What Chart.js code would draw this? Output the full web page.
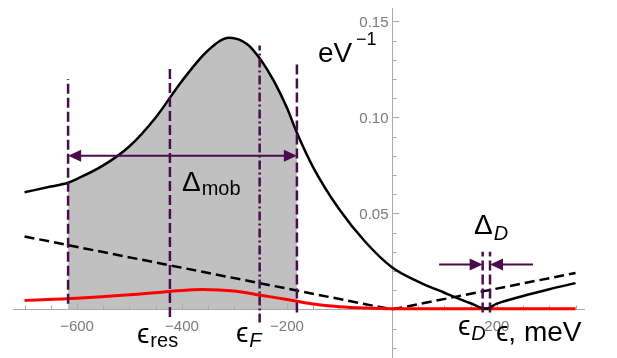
<!DOCTYPE html>
<html>
<head>
<meta charset="utf-8">
<script src="https://cdn.jsdelivr.net/npm/chart.js@4.4.7/dist/chart.umd.min.js"></script>
<style>
  html, body { margin: 0; padding: 0; background: #fff; }
</style>
</head>
<body>
<canvas id="dosChart" width="617" height="358"></canvas>
<script>
// energy in meV, density of states in 1/eV
const energies = [-700, -650, -617, -600, -550, -500, -450, -400, -350, -310, -275, -250, -225, -200, -181, -150, -100, -50, 0, 50, 100, 150, 180, 200, 250, 300, 350];
const dosTotal = [0.061, 0.064, 0.066, 0.068, 0.075, 0.085, 0.100, 0.119, 0.135, 0.1415, 0.138, 0.130, 0.119, 0.105, 0.092, 0.074, 0.052, 0.035, 0.022, 0.0145, 0.0087, 0.0032, 0.0004, 0.003, 0.007, 0.0105, 0.0137];

const resEnergies = [-700, -600, -500, -423, -360, -300, -250, -200, -150, -100, -50, 0, 350];
const dosRes = [0.0047, 0.0058, 0.0076, 0.0094, 0.0104, 0.0096, 0.0074, 0.0052, 0.0028, 0.0014, 0.0007, 0.0004, 0.0004];

const cleanEnergies = [-700, 0, 350];
const dosClean = [0.038, 0, 0.019];

// mobility edge window (shaded)
const mobEdges = [-617, -181];

// vertical marker lines
const markerE      = [-617, -423, -252, -181, 173, 187];
const markerTop    = [0.120, 0.1255, 0.1375, 0.128, 0.030, 0.030];
const markerBottom = [0.003, -0.004, -0.0068, -0.0016, -0.0016, -0.0016];
const markerDashDot = [false, false, true, false, false, false];

// arrows: [from, to] energies at a height
const mobArrow = [-617, -181];
const mobArrowY = 0.080;
const gapArrows = [[90, 173], [269, 187]];
const gapArrowY = 0.0234;

// ticks
const xTicks = [-600, -400, -200, 200];
const xTickLabels = ['\u2212600', '\u2212400', '\u2212200', '200'];
const yTicks = [0.05, 0.10, 0.15];
const yTickLabels = ['0.05', '0.10', '0.15'];

const purple = '#4b0c4d';
const FONT = '"Liberation Sans", "DejaVu Sans", Arial, sans-serif';

function pts(xs, ys) {
  return xs.map((e, i) => ({ x: e, y: ys[i] }));
}

const shadePts = pts(energies, dosTotal).filter(p => p.x >= mobEdges[0] && p.x <= mobEdges[1]);

const datasets = [
  {
    data: shadePts, fill: 'origin', backgroundColor: '#c0c0c0',
    borderWidth: 0, pointRadius: 0, cubicInterpolationMode: 'monotone', order: 10
  },
  {
    data: pts(cleanEnergies, dosClean), borderColor: '#000', borderWidth: 2.5,
    borderDash: [10, 5], pointRadius: 0, tension: 0, fill: false, order: 6
  },
  {
    data: pts(resEnergies, dosRes), borderColor: '#ff0000', borderWidth: 3,
    pointRadius: 0, cubicInterpolationMode: 'monotone', fill: false, order: 5
  },
  {
    data: pts(energies, dosTotal), borderColor: '#000', borderWidth: 2.5,
    pointRadius: 0, cubicInterpolationMode: 'monotone', fill: false, order: 4
  }
];

markerE.forEach((e, i) => {
  datasets.push({
    data: [{ x: e, y: markerBottom[i] }, { x: e, y: markerTop[i] }],
    borderColor: purple, borderWidth: 2.5,
    borderDash: markerDashDot[i] ? [9, 3, 2, 3] : [10, 4],
    pointRadius: 0, tension: 0, fill: false, order: 1
  });
});

function drawAxes(chart) {
  const { ctx, chartArea: a, scales: { x, y } } = chart;
  const x0 = Math.round(x.getPixelForValue(0)) + 0.5;
  const y0 = Math.round(y.getPixelForValue(0)) + 0.5;
  ctx.save();
  ctx.strokeStyle = '#a9a9a9';
  ctx.lineWidth = 1;
  ctx.beginPath();
  ctx.moveTo(a.left, y0); ctx.lineTo(a.right, y0);
  ctx.moveTo(x0, a.top); ctx.lineTo(x0, a.bottom);
  for (let v = -700; v <= 350; v += 50) {
    if (v === 0) continue;
    const px = Math.round(x.getPixelForValue(v)) + 0.5;
    const len = v % 200 === 0 ? 6 : 4;
    ctx.moveTo(px, y0); ctx.lineTo(px, y0 - len);
  }
  for (let k = -2; k <= 15; k++) {
    if (k === 0) continue;
    const py = Math.round(y.getPixelForValue(k / 100)) + 0.5;
    const len = k % 5 === 0 ? 7 : 4;
    ctx.moveTo(x0, py); ctx.lineTo(x0 + len, py);
  }
  ctx.stroke();

  ctx.fillStyle = '#7a7a7a';
  ctx.font = '15px ' + FONT;
  ctx.textBaseline = 'alphabetic';
  ctx.textAlign = 'center';
  xTicks.forEach((v, i) => {
    ctx.fillText(xTickLabels[i], x.getPixelForValue(v), y0 + 21);
  });
  ctx.textAlign = 'right';
  yTicks.forEach((v, i) => {
    ctx.fillText(yTickLabels[i], x0 - 4, y.getPixelForValue(v) + 5.5);
  });
  ctx.restore();
}

function arrowHead(ctx, tipX, tipY, dir) {
  const len = 13, half = 6;
  ctx.beginPath();
  ctx.moveTo(tipX, tipY);
  ctx.lineTo(tipX - dir * len, tipY - half);
  ctx.lineTo(tipX - dir * len, tipY + half);
  ctx.closePath();
  ctx.fill();
}

function drawArrow(ctx, xs, x1, x2, py, both) {
  const p1 = xs.getPixelForValue(x1), p2 = xs.getPixelForValue(x2);
  const dir = p2 > p1 ? 1 : -1;
  ctx.beginPath();
  ctx.moveTo(both ? p1 + dir * 8 : p1, py);
  ctx.lineTo(p2 - dir * 8, py);
  ctx.stroke();
  arrowHead(ctx, p2, py, dir);
  if (both) arrowHead(ctx, p1, py, -dir);
}

function sub(ctx, main, subText, x, base, subItalic, mainSize, subSize, subDy) {
  ctx.font = mainSize + 'px ' + FONT;
  ctx.fillText(main, x, base);
  const w = ctx.measureText(main).width;
  ctx.font = (subItalic ? 'italic ' : '') + subSize + 'px ' + FONT;
  ctx.fillText(subText, x + w + 1, base + subDy);
}

const overlay = {
  id: 'overlay',
  afterDatasetDraw(chart, args) {
    if (args.index === 0) drawAxes(chart);
  },
  afterDatasetsDraw(chart) {
    const { ctx, scales: { x, y } } = chart;
    ctx.save();
    ctx.strokeStyle = purple;
    ctx.fillStyle = purple;
    ctx.lineWidth = 2;
    drawArrow(ctx, x, mobArrow[0], mobArrow[1], y.getPixelForValue(mobArrowY), true);
    gapArrows.forEach(g => drawArrow(ctx, x, g[0], g[1], y.getPixelForValue(gapArrowY), false));
    ctx.restore();
  },
  afterDraw(chart) {
    const ctx = chart.ctx;
    ctx.save();
    ctx.fillStyle = '#000';
    ctx.textAlign = 'left';
    ctx.textBaseline = 'alphabetic';
    sub(ctx, '\u0394', 'mob', 182, 191, false, 28, 20, 4);
    sub(ctx, '\u0394', 'D', 474, 234, true, 28, 20, 6);
    sub(ctx, '\u03f5', 'res', 137, 343, false, 28, 20, 4);
    sub(ctx, '\u03f5', 'F', 236, 342, true, 28, 20, 5);
    sub(ctx, '\u03f5', 'D', 458, 335, true, 28, 20, 5);
    ctx.font = '28px ' + FONT;
    ctx.fillText('\u03f5, meV', 496, 341);
    ctx.fillText('eV', 318, 62);
    ctx.font = '18px ' + FONT;
    ctx.fillText('\u22121', 356, 45);
    ctx.restore();
  }
};

new Chart(document.getElementById('dosChart'), {
  type: 'line',
  data: { datasets: datasets },
  options: {
    responsive: false,
    animation: false,
    devicePixelRatio: 1,
    layout: { padding: { left: 13, right: 32, top: 8, bottom: 0 } },
    plugins: { legend: { display: false }, tooltip: { enabled: false } },
    scales: {
      x: { type: 'linear', min: -722, max: 368, display: false },
      y: { min: -0.0253, max: 0.157, display: false }
    }
  },
  plugins: [overlay]
});
</script>
</body>
</html>
